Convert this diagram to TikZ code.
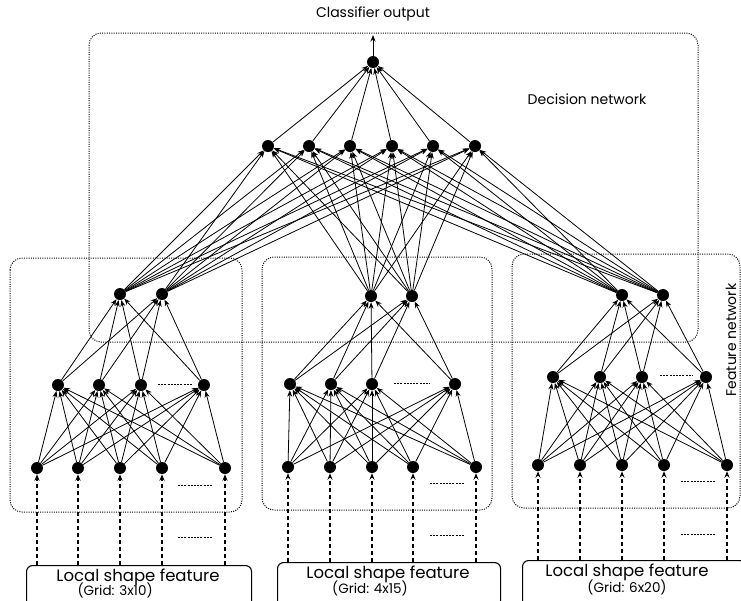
\documentclass[tikz,border=0pt]{standalone}
\usepackage{fontspec}
\setmainfont{Poppins}
\usetikzlibrary{arrows.meta}
\begin{document}
\begin{tikzpicture}[x=1pt,y=-1pt,
  neuron/.style={circle,fill=black,inner sep=0pt,minimum size=12pt},
  conn/.style={-{Stealth[length=6.5pt,width=5pt]},line width=0.8pt},
  inarrow/.style={-{Stealth[length=6.5pt,width=5pt]},line width=1.1pt,dash pattern=on 4pt off 3pt},
  region/.style={draw,line width=1pt,dash pattern=on 1pt off 1.3pt,rounded corners=12pt},
  more/.style={line width=1pt,dash pattern=on 2pt off 1.2pt},
  inbox/.style={draw,line width=1.1pt,rounded corners=6pt},
  lbl/.style={font=\fontsize{14}{16}\selectfont},
  big/.style={font=\fontsize{16.5}{18}\selectfont},
  small/.style={font=\fontsize{13.5}{15}\selectfont}]
\useasboundingbox (0,0) rectangle (741,600);

% regions
\draw[region] (89,33) rectangle (698,342);
\draw[region] (10,258) rectangle (242,512);
\draw[region] (262,257) rectangle (492,510);
\draw[region] (512,254) rectangle (740,508);

% labels
\node[lbl] (cls) at (373,14) {Classifier output};
\node[lbl] (dec) at (587,99) {Decision network};
\node[lbl,rotate=90,inner sep=0pt] (fea) at (731,340) {Feature network};

% decision network
\node[neuron] (out) at (373,62) {};
\coordinate (outtip) at (373,35);
\draw[conn] (out) -- (outtip);
\foreach \i/\x in {1/268,2/309,3/350,4/392,5/433,6/475}{
  \node[neuron] (h\i) at (\x,146) {};
  \draw[conn] (h\i) -- (out);
}

% feature networks: top, middle, bottom layers
\foreach \n/\ta/\tb/\ty/\ma/\mb/\mc/\md/\my/\ba/\bb/\bc/\bd/\be/\by in {
  1/120/162/294/58/99/141/204/385/37/78/120/162/225/468,
  2/371/412/296/290/331/372/455/384/288/330/372/413/476/467,
  3/622/663/295/553/600/642/706/377/538/580/622/664/727/465}{
  \node[neuron] (f\n t1) at (\ta,\ty) {};
  \node[neuron] (f\n t2) at (\tb,\ty) {};
  \node[neuron] (f\n m1) at (\ma,\my) {};
  \node[neuron] (f\n m2) at (\mb,\my) {};
  \node[neuron] (f\n m3) at (\mc,\my) {};
  \node[neuron] (f\n m4) at (\md,\my) {};
  \node[neuron] (f\n b1) at (\ba,\by) {};
  \node[neuron] (f\n b2) at (\bb,\by) {};
  \node[neuron] (f\n b3) at (\bc,\by) {};
  \node[neuron] (f\n b4) at (\bd,\by) {};
  \node[neuron] (f\n b5) at (\be,\by) {};
  \foreach \t in {1,2}{
    \foreach \h in {1,...,6}{\draw[conn] (f\n t\t) -- (h\h);}
    \foreach \m in {1,...,4}{\draw[conn] (f\n m\m) -- (f\n t\t);}
  }
  \foreach \m in {1,...,4}{
    \foreach \b in {1,...,5}{\draw[conn] (f\n b\b) -- (f\n m\m);}
  }
}

% input boxes
\node[inbox,minimum width=225pt,minimum height=44pt,anchor=north west] (in1) at (26,565) {};
\node[inbox,minimum width=223pt,minimum height=44pt,anchor=north west] (in2) at (277,562) {};
\node[inbox,minimum width=223pt,minimum height=46pt,anchor=north west] (in3) at (522,560) {};
\node[big] (t1) at (138,577) {Local shape feature};
\node[small,anchor=west] (g1) at (74,590) {(Grid: 3x10)};
\node[big] (t2) at (388,574) {Local shape feature};
\node[small] (g2) at (370,588) {(Grid: 4x15)};
\node[big] (t3) at (627,572) {Local shape feature};
\node[small] (g3) at (627,587) {(Grid: 6x20)};

% input arrows
\foreach \n/\y in {1/565,2/562,3/560}{
  \foreach \b in {1,...,5}{
    \path (f\n b\b) ++(0,0) coordinate (tmp);
    \coordinate (s\n\b) at (tmp |- {(0,\y)});
    \draw[inarrow] (s\n\b) -- (f\n b\b);
  }
}

% "more units" dots
\draw[more] (158,384) coordinate (d1a) -- (193,384) coordinate (d1b);
\draw[more] (178,485) coordinate (d2a) -- (213,485) coordinate (d2b);
\draw[more] (178,537) coordinate (d3a) -- (213,537) coordinate (d3b);
\draw[more] (394,383) coordinate (d4a) -- (430,383) coordinate (d4b);
\draw[more] (430,483) coordinate (d5a) -- (465,483) coordinate (d5b);
\draw[more] (430,535) coordinate (d6a) -- (465,535) coordinate (d6b);
\draw[more] (660,375) coordinate (d7a) -- (693,375) coordinate (d7b);
\draw[more] (681,481) coordinate (d8a) -- (716,481) coordinate (d8b);
\draw[more] (681,534) coordinate (d9a) -- (716,534) coordinate (d9b);
\end{tikzpicture}
\end{document}
